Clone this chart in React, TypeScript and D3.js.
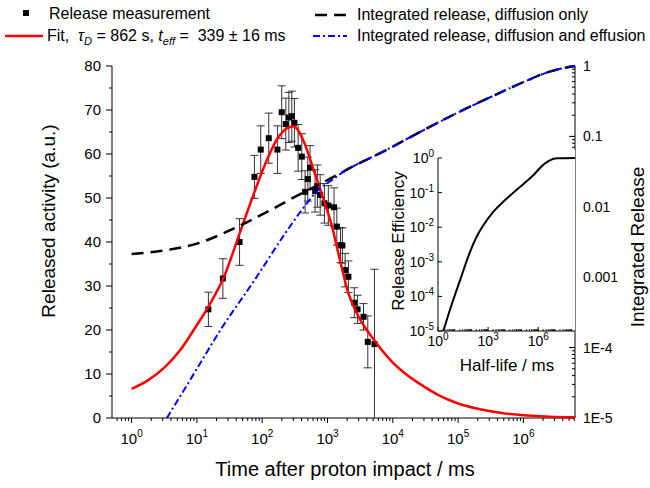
import React from 'react';
import * as d3 from 'd3';

// ---------- data ----------
const timeMs = [15, 25, 45, 76, 95, 126, 171, 199, 230, 256, 284, 311, 355, 404, 454, 499, 541, 646, 700, 772, 897, 1030, 1260, 1390, 1580, 1690, 1860, 2090, 2570, 2890, 3560, 4140, 5240];
const activity = [24.7, 31.7, 40.0, 54.8, 61.0, 63.6, 61.0, 69.5, 66.8, 68.3, 68.6, 67.1, 61.4, 59.4, 51.4, 54.3, 56.9, 51.6, 52.7, 50.7, 48.8, 48.3, 47.9, 43.5, 39.3, 39.2, 33.6, 32.1, 26.2, 24.7, 23.0, 17.3, 16.8];
const activityErr = [3.9, 4.5, 5.3, 4.9, 5.4, 5.7, 5.4, 6.0, 5.9, 5.7, 5.7, 5.5, 5.3, 5.2, 4.8, 5.0, 5.0, 4.8, 4.8, 4.6, 4.5, 4.5, 4.4, 4.2, 4.0, 4.0, 3.8, 3.6, 3.4, 3.2, 3.0, 5.9, 17.0];

const fitTime = [1, 1.8, 3.2, 5.6, 9.3, 16, 26, 46, 78, 117, 178, 300, 457, 603, 813, 1175, 1550, 2090, 2880, 5010, 10000, 15800, 26300, 50100, 100000, 200000, 440000, 1000000, 2510000, 6200000];
const fitValue = [6.6, 8.6, 11.5, 15.5, 20.4, 26, 32.1, 42.3, 51.8, 58.5, 63.9, 66.3, 62, 56.7, 51, 43.5, 35.9, 28.3, 23.5, 18, 12.6, 10, 7.7, 5.2, 3.3, 2.1, 1.2, 0.6, 0.3, 0.15];

const diffTime = [1, 3.16, 10, 40, 100, 316, 1000, 2820, 6310, 28200, 100000, 316000, 1000000, 2510000, 6200000];
const diffValue = [0.00214, 0.0024, 0.0030, 0.0051, 0.0078, 0.0138, 0.024, 0.040, 0.0575, 0.120, 0.219, 0.363, 0.589, 0.832, 1.0];

const effTime = [3.47, 10, 22.6, 77.6, 224, 407, 724, 1175, 2000, 2820, 6310, 28200, 100000, 316000, 1000000, 2510000, 6200000];
const effValue = [1e-5, 5.0e-5, 1.74e-4, 9.3e-4, 0.00417, 0.0091, 0.0174, 0.024, 0.0339, 0.040, 0.0575, 0.120, 0.219, 0.363, 0.589, 0.832, 1.0];

const halfLife = [2.1, 5.2, 21, 83, 209, 525, 2090, 8300, 33100, 132000, 525000, 2090000, 5250000, 13200000, 158000000];
const efficiency = [1e-5, 4.1e-5, 2.95e-4, 1.95e-3, 5.4e-3, 0.0115, 0.0282, 0.055, 0.10, 0.178, 0.324, 0.646, 0.871, 0.977, 1.0];

const leftTicks = [0, 10, 20, 30, 40, 50, 60, 70, 80];
const leftMinor = [5, 15, 25, 35, 45, 55, 65, 75];
const xTickExp = [0, 1, 2, 3, 4, 5, 6];
const rightTicks = [1e-5, 1e-4, 1e-3, 1e-2, 1e-1, 1];
const rightLabels = ['1E-5', '1E-4', '0.001', '0.01', '0.1', '1'];
const insetYExp = [0, -1, -2, -3, -4, -5];
const insetXExp = [0, 3, 6];

const FONT = '"Liberation Sans", Arial, Helvetica, sans-serif';

export default function App() {
  const x = d3.scaleLog().domain([Math.pow(10, -0.3), Math.pow(10, 6.79)]).range([112, 575]);
  const yL = d3.scaleLinear().domain([0, 80]).range([418, 66]);
  const yR = d3.scaleLog().domain([1e-5, 1]).range([418, 66]);

  const xI = d3.scaleLog().domain([1, Math.pow(10, 8.2)]).range([438, 575]);
  const yI = d3.scaleLog().domain([1e-5, 1]).range([331, 158]);

  const fitLine = d3.line<number>().x((_, i) => x(fitTime[i])).y((d) => yL(d)).curve(d3.curveMonotoneX);
  const diffLine = d3.line<number>().x((_, i) => x(diffTime[i])).y((d) => yR(d)).curve(d3.curveMonotoneX);
  const effLine = d3.line<number>().x((_, i) => x(effTime[i])).y((d) => yR(d)).curve(d3.curveMonotoneX);
  const insetLine = d3.line<number>().x((_, i) => xI(halfLife[i])).y((d) => yI(d)).curve(d3.curveMonotoneX);

  const [x0, x1] = x.domain();
  const xMinor: number[] = [];
  for (let e = -1; e <= 7; e++) for (let m = 2; m <= 9; m++) {
    const v = m * Math.pow(10, e);
    if (v >= x0 && v <= x1) xMinor.push(v);
  }
  const rMinor: number[] = [];
  for (let e = -5; e < 0; e++) for (let m = 2; m <= 9; m++) rMinor.push(m * Math.pow(10, e));
  const iMinor: number[] = [];
  for (let e = 0; e <= 8; e++) for (let m = 1; m <= 9; m++) {
    const v = m * Math.pow(10, e);
    if (v <= Math.pow(10, 8.2) && !(m === 1 && e % 3 === 0)) iMinor.push(v);
  }

  const yBase = 418;

  return (
    <div style={{ position: 'absolute', left: 0, top: 0 }}>
      <svg width={650} height={488} style={{ display: 'block', fontFamily: FONT }}>
        <rect width={650} height={488} fill="#fff" />

        {/* Legend */}
        <g fontSize={16} fill="#000">
          <rect x={23} y={10} width={6} height={6} fill="#000" />
          <text x={49} y={19}>Release measurement</text>
          <line x1={5} x2={43} y1={36} y2={36} stroke="#ff0000" strokeWidth={2.5} />
          <text x={47} y={41} style={{ whiteSpace: 'pre' }}>
            {'Fit,  '}
            <tspan fontStyle="italic">τ</tspan>
            <tspan fontStyle="italic" fontSize={11} dy={4}>D</tspan>
            <tspan dy={-4}>{' = 862 s, '}</tspan>
            <tspan fontStyle="italic">t</tspan>
            <tspan fontStyle="italic" fontSize={11} dy={4}>eff</tspan>
            <tspan dy={-4}>{' =  339 ± 16 ms'}</tspan>
          </text>
          <line x1={315} x2={347} y1={15} y2={15} stroke="#000" strokeWidth={2.5} strokeDasharray="12,7" />
          <text x={357} y={20}>Integrated release, diffusion only</text>
          <line x1={313} x2={347} y1={36} y2={36} stroke="#0000ff" strokeWidth={2} strokeDasharray="7,3,2,3" />
          <text x={357} y={41}>Integrated release, diffusion and effusion</text>
        </g>

        {/* Left axis */}
        <line x1={112} x2={112} y1={66} y2={yBase} stroke="#000" />
        {leftTicks.map((t) => (
          <g key={'l' + t}>
            <line x1={106} x2={112} y1={yL(t)} y2={yL(t)} stroke="#000" />
            <text x={101} y={yL(t)} dy="0.35em" textAnchor="end" fontSize={15}>{t}</text>
          </g>
        ))}
        {leftMinor.map((t) => (
          <line key={'lm' + t} x1={109} x2={112} y1={yL(t)} y2={yL(t)} stroke="#000" />
        ))}
        <text transform="translate(55,221) rotate(-90)" textAnchor="middle" fontSize={19}>Released activity (a.u.)</text>

        {/* Bottom axis */}
        <line x1={112} x2={575} y1={yBase} y2={yBase} stroke="#000" />
        {xTickExp.map((e) => (
          <g key={'x' + e}>
            <line x1={x(Math.pow(10, e))} x2={x(Math.pow(10, e))} y1={yBase} y2={yBase + 5} stroke="#000" />
            <text x={x(Math.pow(10, e))} y={444} textAnchor="middle" fontSize={15}>
              10<tspan dy={-7} fontSize={10}>{e}</tspan>
            </text>
          </g>
        ))}
        {xMinor.map((v, i) => (
          <line key={'xm' + i} x1={x(v)} x2={x(v)} y1={yBase} y2={yBase + 3} stroke="#000" />
        ))}
        <text x={345} y={476} textAnchor="middle" fontSize={20}>Time after proton impact / ms</text>

        {/* Right axis */}
        <line x1={575} x2={575} y1={66} y2={yBase} stroke="#000" />
        {rightTicks.map((t, i) => (
          <g key={'r' + i}>
            <line x1={569} x2={575} y1={yR(t)} y2={yR(t)} stroke="#000" />
            <text x={583} y={yR(t)} dy="0.35em" fontSize={14}>{rightLabels[i]}</text>
          </g>
        ))}
        {rMinor.map((v, i) => (
          <line key={'rm' + i} x1={572} x2={575} y1={yR(v)} y2={yR(v)} stroke="#000" />
        ))}
        <text transform="translate(644,247) rotate(-90)" textAnchor="middle" fontSize={19}>Integrated Release</text>

        {/* Error bars and points */}
        <g stroke="#333" strokeWidth={1}>
          {timeMs.map((t, i) => {
            const cx = x(t);
            const top = activity[i] + activityErr[i];
            const bot = Math.max(0, activity[i] - activityErr[i]);
            return (
              <g key={'e' + i}>
                <line x1={cx} x2={cx} y1={yL(top)} y2={yL(bot)} />
                <line x1={cx - 4} x2={cx + 4} y1={yL(top)} y2={yL(top)} />
                {activity[i] - activityErr[i] > 0 && <line x1={cx - 4} x2={cx + 4} y1={yL(bot)} y2={yL(bot)} />}
              </g>
            );
          })}
        </g>
        {timeMs.map((t, i) => (
          <rect key={'p' + i} x={x(t) - 3} y={yL(activity[i]) - 3} width={6} height={6} fill="#000" />
        ))}

        {/* Curves */}
        <path d={fitLine(fitValue) || ''} fill="none" stroke="#ff0000" strokeWidth={2.5} />
        <path d={diffLine(diffValue) || ''} fill="none" stroke="#000" strokeWidth={2.5} strokeDasharray="12,7" />
        <path d={effLine(effValue) || ''} fill="none" stroke="#0000ff" strokeWidth={2} strokeDasharray="7,3,2,3" />

        {/* Inset */}
        <rect x={438} y={150} width={137} height={181} fill="#fff" />
        <line x1={438} x2={438} y1={158} y2={331} stroke="#000" />
        <line x1={438} x2={575} y1={331} y2={331} stroke="#000" />
        {insetYExp.map((e) => (
          <g key={'iy' + e}>
            <line x1={438} x2={442} y1={yI(Math.pow(10, e))} y2={yI(Math.pow(10, e))} stroke="#000" />
            <text x={434} y={yI(Math.pow(10, e)) + 5} textAnchor="end" fontSize={14}>
              10<tspan dy={-6} fontSize={10}>{e}</tspan>
            </text>
          </g>
        ))}
        {insetXExp.map((e) => (
          <g key={'ix' + e}>
            <line x1={xI(Math.pow(10, e))} x2={xI(Math.pow(10, e))} y1={331} y2={327} stroke="#000" />
            <text x={xI(Math.pow(10, e))} y={346} textAnchor="middle" fontSize={14}>
              10<tspan dy={-6} fontSize={10}>{e}</tspan>
            </text>
          </g>
        ))}
        {iMinor.map((v, i) => (
          <line key={'im' + i} x1={xI(v)} x2={xI(v)} y1={331} y2={329} stroke="#000" strokeWidth={0.8} />
        ))}
        <path d={insetLine(efficiency) || ''} fill="none" stroke="#000" strokeWidth={2} />
        <text transform="translate(404,241) rotate(-90)" textAnchor="middle" fontSize={17}>Release Efficiency</text>
        <text x={507} y={371} textAnchor="middle" fontSize={17}>Half-life / ms</text>
      </svg>
    </div>
  );
}
